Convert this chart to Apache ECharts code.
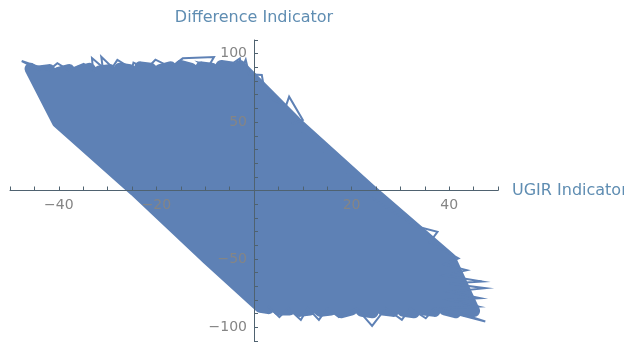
<!DOCTYPE html>
<html>
<head>
<meta charset="utf-8">
<script src="https://cdn.jsdelivr.net/npm/echarts@6/dist/echarts.min.js"></script>
<style>html,body{margin:0;padding:0;background:#fff}#c{width:624px;height:342px}</style>
</head>
<body>
<div id="c"></div>
<script>
// Scribble strokes: each stroke runs from the top edge to the bottom edge
const strokeTopX = [-45.8,-44.1,-42.0,-40.0,-37.9,-35.8,-33.7,-31.6,-29.6,-27.5,-25.4,-23.3,-21.2,-19.2,-17.1,-15.0,-12.9,-10.8,-8.7,-6.7,-4.6,-2.9];
const strokeTopY = [89,87,88,86,88,87,89,87,88,89,88,90,89,88,90,91,89,90,89,91,90,91];
const strokeX50  = [-40.2,-38.2,-35.9,-33.5,-31.2,-28.8,-26.5,-24.1,-21.7,-19.4,-17.0,-14.7,-12.3,-10.0,-7.6,-5.2,-2.9,-0.5,1.8,4.2,6.5,8.5];
const strokeX0   = [-24.4,-22.5,-20.2,-17.9,-15.6,-13.2,-10.9,-8.6,-6.2,-3.9,-1.6,0.8,3.1,5.5,7.9,10.2,12.6,14.9,17.3,19.7,22.0,24.0];
const strokeXm50 = [-9.5,-7.5,-5.1,-2.7,-0.3,2.1,4.5,6.9,9.3,11.7,14.1,16.5,19.0,21.4,23.8,26.2,28.6,31.0,33.4,35.8,38.2,40.2];
const strokeBotX = [1.3,3.0,5.1,7.3,9.4,11.5,13.6,15.8,17.9,20.0,22.1,24.3,26.4,28.5,30.6,32.8,34.9,37.0,39.1,41.3,43.4,45.1];
const strokeBotY = [-85,-86,-87,-87,-88,-87,-88,-87,-89,-87,-88,-89,-87,-88,-88,-89,-87,-88,-87,-89,-88,-88];
const strokeLevels = [50, 0, -50];

// Thin jagged excursions along the edges
const edgeX = [-44,-47.6,-43,-46.3,-42,-40.3,-38,-34.9,-33,-33.2,-31,-31.3,-29,-28,-25,-24.7,-22,-20.2,-17,-14.6,-8.2,-9.6,-11.3,-6,-2.9,-2.5,-1.7,-1,1.6,2,4,6.6,7.2,10,8,20,24,33,37.6,36,41.9,39,43.6,39,46.7,40,47.4,40,46.4,40,46,39,47.4,37,35.2,32,30.3,27,24.2,21,17.4,15,13.3,11,9.6,7,5.2,3];
const edgeY = [88,94.6,89,92,88,93,88,92.5,88,96.8,90,97.8,90,95.5,89,93.5,89,95.6,90,96.6,97.6,89,93.5,89,96.6,89,95.6,85,84.5,76,66,62.4,68.6,51.5,49,10,-5,-26,-30.2,-38,-49.6,-54,-58.2,-62,-66.5,-68,-71.4,-74,-78.7,-80,-84.8,-86,-95.8,-86,-93.4,-86,-94.6,-86,-99,-86,-92.6,-86,-94.6,-86,-94.6,-86,-92.5,-85];

// Axis tick labels
const xTickLabels = [-40, -20, 20, 40];
const yTickLabels = [-100, -50, 50, 100];

const bodyPath = [];
for (let k = 0; k < strokeTopX.length; k++) {
  const pts = [
    [strokeTopX[k], strokeTopY[k]],
    [strokeX50[k], strokeLevels[0]],
    [strokeX0[k], strokeLevels[1]],
    [strokeXm50[k], strokeLevels[2]],
    [strokeBotX[k], strokeBotY[k]]
  ];
  if (k % 2 === 1) pts.reverse();
  for (const p of pts) bodyPath.push(p);
}
const edgePath = edgeX.map((x, i) => [x, edgeY[i]]);

const blue = '#5E81B5';
const axisColor = '#4f6270';
const tickText = '#858585';
const nameColor = '#5f8db2';
const fam = 'DejaVu Sans';
const minus = v => (v < 0 ? '\u2212' + (-v) : String(v));

// grid: 10..498 horizontally, 40..341 vertically; axes cross at data (0,0)
const chart = echarts.init(document.getElementById('c'), null, {renderer: 'canvas'});
chart.setOption({
  animation: false,
  backgroundColor: '#ffffff',
  grid: {left: 10, right: 126, top: 40, bottom: 1, containLabel: false, outerBoundsMode: 'none'},
  xAxis: {
    type: 'value', min: -50, max: 50, interval: 5, z: 10,
    position: 'bottom', offset: -150.5,
    axisLine: {onZero: false, lineStyle: {color: axisColor, width: 1}},
    axisTick: {inside: true, length: 4, lineStyle: {color: axisColor}},
    splitLine: {show: false},
    axisLabel: {
      margin: 8, color: tickText, fontSize: 14, fontFamily: fam,
      formatter: v => { const r = Math.round(v); return xTickLabels.includes(r) ? minus(r) : ''; }
    },
    name: 'UGIR Indicator', nameLocation: 'end', nameGap: 14,
    nameTextStyle: {color: nameColor, fontSize: 16, fontFamily: fam}
  },
  yAxis: {
    type: 'value', min: -110, max: 110, interval: 10, z: 10,
    position: 'left', offset: -244,
    axisLine: {onZero: false, lineStyle: {color: axisColor, width: 1}},
    axisTick: {inside: true, length: 4, lineStyle: {color: axisColor}},
    splitLine: {show: false},
    axisLabel: {
      margin: 7, color: tickText, fontSize: 14, fontFamily: fam,
      formatter: v => { const r = Math.round(v); return yTickLabels.includes(r) ? minus(r) : ''; }
    },
    name: 'Difference Indicator', nameLocation: 'end', nameGap: 14,
    nameTextStyle: {color: nameColor, fontSize: 16, fontFamily: fam}
  },
  series: [
    {
      type: 'line', data: bodyPath, symbol: 'none', showSymbol: false, z: 2,
      lineStyle: {color: blue, width: 12, join: 'round', cap: 'round'}
    },
    {
      type: 'line', data: edgePath, symbol: 'none', showSymbol: false, z: 3,
      lineStyle: {color: blue, width: 2, join: 'miter', cap: 'round'}
    }
  ]
});
</script>
</body>
</html>
